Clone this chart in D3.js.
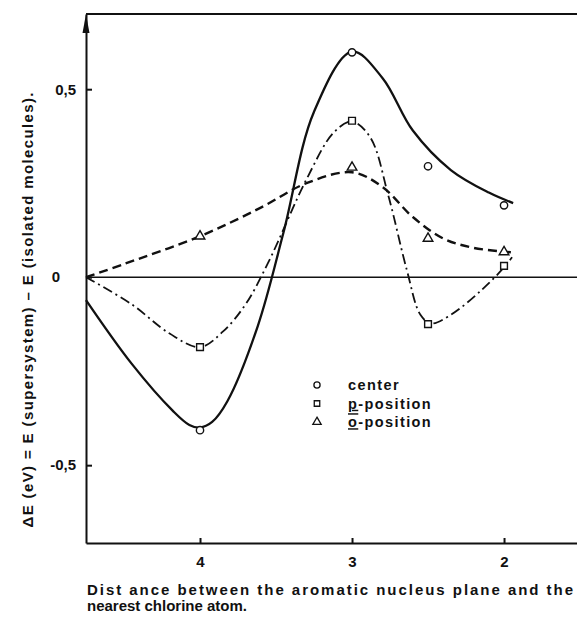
<!DOCTYPE html>
<html>
<head>
<meta charset="utf-8">
<script src="https://cdn.jsdelivr.net/npm/d3@7"></script>
<style>
  body { margin: 0; background: #fff; }
  text { font-family: "Liberation Sans", Arial, sans-serif; font-weight: bold; fill: #111; }
</style>
</head>
<body>
<div class="chart"></div>
<script>
var width = 577;
var height = 618;

// axis ticks
var xTicks = [4, 3, 2];
var yTicks = [0.5, 0, -0.5];
var yTickLabels = ["0,5", "0", "-0,5"];

// computed points (distance, eV)
var centerPoints = [[4, -0.407], [3, 0.598], [2.5, 0.295], [2, 0.191]];
var paraPoints = [[4, -0.186], [3, 0.416], [2.5, -0.125], [2, 0.030]];
var orthoPoints = [[4, 0.109], [3, 0.292], [2.5, 0.103], [2, 0.067]];

// hand drawn curves through the points
var centerCurve = [[4.75, -0.061], [4.45, -0.23], [4.18, -0.355], [4.07, -0.393], [4.0, -0.400],
  [3.92, -0.385], [3.82, -0.33], [3.62, -0.13], [3.45, 0.12], [3.25, 0.44], [3.0, 0.600],
  [2.80, 0.53], [2.60, 0.39], [2.35, 0.285], [2.10, 0.225], [1.94, 0.197]];
var paraCurve = [[4.75, 0], [4.45, -0.072], [4.2, -0.15], [4.0, -0.186], [3.85, -0.145],
  [3.7, -0.072], [3.55, 0.04], [3.3, 0.26], [3.12, 0.385], [3.0, 0.414], [2.88, 0.372],
  [2.76, 0.215], [2.64, 0.02], [2.55, -0.10], [2.48, -0.123], [2.35, -0.10], [2.15, -0.035],
  [2.0, 0.026], [1.947, 0.053]];
var orthoCurve = [[4.75, 0], [4.5, 0.035], [4.0, 0.109], [3.6, 0.185], [3.3, 0.25],
  [3.0, 0.279], [2.8, 0.24], [2.6, 0.16], [2.4, 0.103], [2.2, 0.078], [1.947, 0.066]];

var seriesNames = ["center", "p-position", "o-position"];

var svg = d3.select(".chart")
  .append("svg")
  .attr("width", width)
  .attr("height", height);

var x = d3.scaleLinear()
  .domain([4.75, 1.52])
  .range([86, 577]);

var y = d3.scaleLinear()
  .domain([0.70, -0.707])
  .range([14, 543]);

// top border + zero line
svg.append("line")
  .attr("x1", x.range()[0]).attr("x2", x.range()[1])
  .attr("y1", y.range()[0]).attr("y2", y.range()[0])
  .attr("stroke", "#111").attr("stroke-width", 2);

svg.append("line")
  .attr("x1", x.range()[0]).attr("x2", x.range()[1])
  .attr("y1", y(0)).attr("y2", y(0))
  .attr("stroke", "#111").attr("stroke-width", 1.6);

// y axis, ticks pointing inward
var yAxis = svg.append("g")
  .attr("transform", "translate(" + x.range()[0] + ",0)")
  .call(d3.axisLeft(y)
    .tickValues(yTicks)
    .tickSize(-6)
    .tickSizeOuter(0)
    .tickPadding(11)
    .tickFormat(function(d, i) { return yTickLabels[i]; }));

yAxis.select(".domain").attr("stroke", "#111").attr("stroke-width", 2);
yAxis.selectAll(".tick line").attr("stroke", "#111").attr("stroke-width", 2);
yAxis.selectAll(".tick text")
  .attr("font-size", 15)
  .attr("font-family", null)
  .attr("x", function(d) { return d === 0 ? -26 : -10; });

// arrow on top of y axis
svg.append("path")
  .attr("d", "M" + x.range()[0] + "," + y.range()[0] +
    "L" + (x.range()[0] - 3.5) + "," + (y.range()[0] + 19) +
    "L" + (x.range()[0] + 3.5) + "," + (y.range()[0] + 19) + "Z")
  .attr("fill", "#111");

// x axis
var xAxis = svg.append("g")
  .attr("transform", "translate(0," + y.range()[1] + ")")
  .call(d3.axisBottom(x)
    .tickValues(xTicks)
    .tickSize(-5)
    .tickSizeOuter(0)
    .tickPadding(13)
    .tickFormat(d3.format("d")));

xAxis.select(".domain").attr("stroke", "#111").attr("stroke-width", 2);
xAxis.selectAll(".tick line").attr("stroke", "#111").attr("stroke-width", 2);
xAxis.selectAll(".tick text")
  .attr("font-size", 15)
  .attr("font-family", null);

// curves
var line = d3.line()
  .x(function(d) { return x(d[0]); })
  .y(function(d) { return y(d[1]); })
  .curve(d3.curveCatmullRom.alpha(0.5));

svg.append("path")
  .datum(centerCurve)
  .attr("fill", "none")
  .attr("stroke", "#111")
  .attr("stroke-width", 2.3)
  .attr("d", line);

svg.append("path")
  .datum(paraCurve)
  .attr("fill", "none")
  .attr("stroke", "#111")
  .attr("stroke-width", 1.8)
  .attr("stroke-dasharray", "10,4,2,4")
  .attr("d", line);

svg.append("path")
  .datum(orthoCurve)
  .attr("fill", "none")
  .attr("stroke", "#111")
  .attr("stroke-width", 2.4)
  .attr("stroke-dasharray", "9,5")
  .attr("d", line);

// markers
var symbols = [d3.symbolCircle, d3.symbolSquare, d3.symbolTriangle];
var symbolSizes = [42, 46, 40];
var allPoints = [centerPoints, paraPoints, orthoPoints];

allPoints.forEach(function(pts, i) {
  svg.selectAll(".pt" + i)
    .data(pts)
    .enter().append("path")
      .attr("class", "pt" + i)
      .attr("transform", function(d) { return "translate(" + x(d[0]) + "," + y(d[1]) + ")"; })
      .attr("d", d3.symbol().type(symbols[i]).size(symbolSizes[i]))
      .attr("fill", "#fff")
      .attr("stroke", "#111")
      .attr("stroke-width", 1.4);
});

// legend
var legend = svg.append("g")
  .attr("transform", "translate(317,385)");

var legendRow = legend.selectAll(".legend-row")
  .data(seriesNames)
  .enter().append("g")
    .attr("class", "legend-row")
    .attr("transform", function(d, i) { return "translate(0," + (i * 18.5) + ")"; });

legendRow.append("path")
  .attr("d", function(d, i) { return d3.symbol().type(symbols[i]).size(30)(); })
  .attr("fill", "#fff")
  .attr("stroke", "#111")
  .attr("stroke-width", 1.3);

var legendText = legendRow.append("text")
  .attr("x", 31)
  .attr("dy", "0.36em")
  .attr("font-size", 14.5)
  .attr("letter-spacing", 1.4);

legendText.each(function(d, i) {
  var t = d3.select(this);
  if (i === 0) {
    t.text(d);
  } else {
    t.append("tspan")
      .attr("text-decoration", i === 1 ? "underline" : "overline underline")
      .text(d.charAt(0));
    t.append("tspan").text(d.slice(1));
  }
});

// axis titles
svg.append("text")
  .attr("x", 87)
  .attr("y", 595)
  .attr("font-size", 15)
  .attr("textLength", 486)
  .attr("lengthAdjust", "spacing")
  .text("Dist ance  between the aromatic nucleus plane and the");

svg.append("text")
  .attr("x", 87)
  .attr("y", 611)
  .attr("font-size", 15)
  .attr("textLength", 160)
  .attr("lengthAdjust", "spacing")
  .text("nearest chlorine atom.");

svg.append("text")
  .attr("transform", "translate(33,310) rotate(-90)")
  .attr("text-anchor", "middle")
  .attr("font-size", 15)
  .attr("textLength", 435)
  .attr("lengthAdjust", "spacing")
  .text("\u0394E (eV) = E  (supersystem) \u2013 E (isolated molecules).");
</script>
</body>
</html>
